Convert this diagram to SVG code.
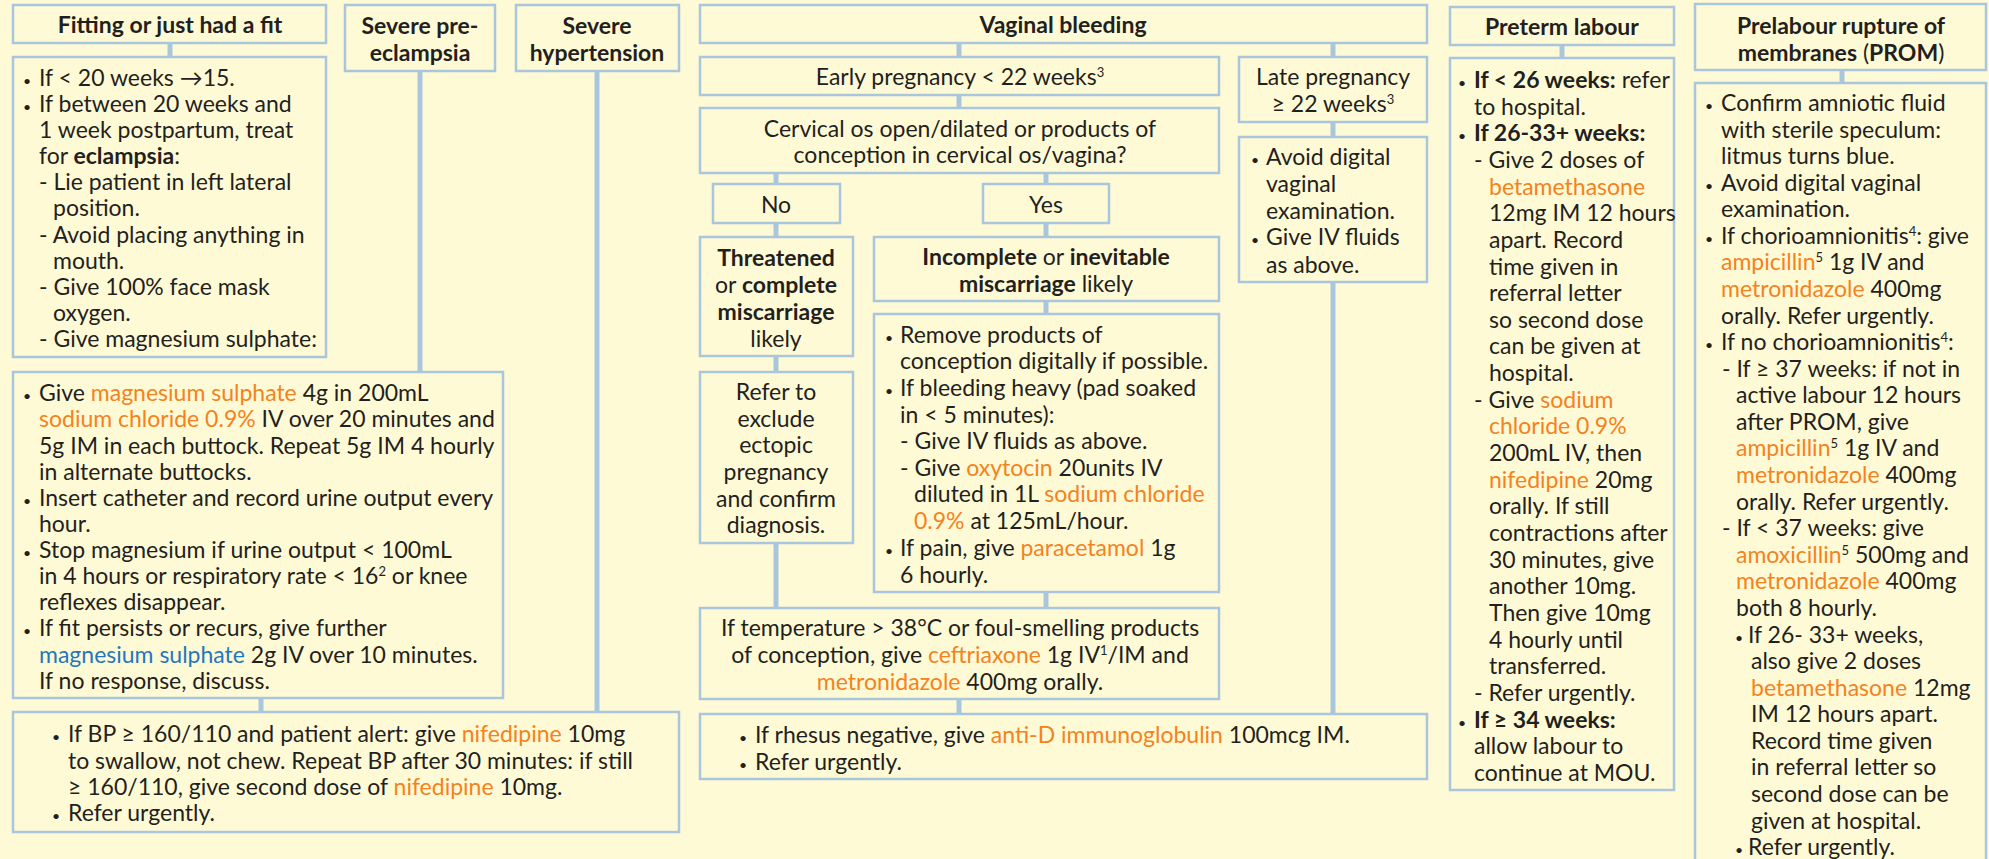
<svg xmlns="http://www.w3.org/2000/svg" width="1989" height="859" viewBox="0 0 1989 859">
<style>
text{font-family:Lato,"Open Sans","Liberation Sans",sans-serif;font-size:23px;fill:#231F20}
.b{font-weight:bold}
.c{text-anchor:middle}
.o{fill:#F58220}
.bl{fill:#1F78BE}
.sup{font-size:13px}
.bu{font-size:14px}
.box{fill:none;stroke:#A9C6DC;stroke-width:2.5}
.conn line{stroke:#A9C6DC;stroke-width:5}
</style>
<rect width="1989" height="859" fill="#FFFAD6"/>
<g class="conn" id="connectors">
<line x1="170" y1="43" x2="170" y2="57"/>
<line x1="420" y1="71" x2="420" y2="372"/>
<line x1="597" y1="71" x2="597" y2="712"/>
<line x1="261" y1="698" x2="261" y2="712"/>
<line x1="959" y1="43" x2="959" y2="57"/>
<line x1="959" y1="95" x2="959" y2="108"/>
<line x1="959" y1="699" x2="959" y2="714"/>
<line x1="1333" y1="43" x2="1333" y2="57"/>
<line x1="1333" y1="122" x2="1333" y2="137"/>
<line x1="1333" y1="282" x2="1333" y2="714"/>
<line x1="776" y1="173" x2="776" y2="184"/>
<line x1="776" y1="223" x2="776" y2="237"/>
<line x1="776" y1="356" x2="776" y2="372"/>
<line x1="776" y1="543" x2="776" y2="608"/>
<line x1="1046" y1="173" x2="1046" y2="184"/>
<line x1="1046" y1="223" x2="1046" y2="237"/>
<line x1="1046" y1="301" x2="1046" y2="314"/>
<line x1="1046" y1="592" x2="1046" y2="608"/>
<line x1="1562" y1="45" x2="1562" y2="58"/>
<line x1="1842" y1="70" x2="1842" y2="83"/>
</g>

<g id="fit-header">
<rect class="box" x="13" y="5" width="313" height="38"/>
<text class="b c" x="170" y="33">Fitting or just had a fit</text>
</g>

<g id="fit-content">
<rect class="box" x="13" y="57" width="313" height="300"/>
<text class="bu" x="23" y="86">•</text><text x="39" y="86">If &lt; 20 weeks →15.</text>
<text class="bu" x="23" y="112">•</text><text x="39" y="112">If between 20 weeks and</text>
<text x="39" y="138">1 week postpartum, treat</text>
<text x="39" y="164">for <tspan class="b">eclampsia</tspan>:</text>
<text x="39" y="190">- Lie patient in left lateral</text>
<text x="53" y="216">position.</text>
<text x="39" y="243">- Avoid placing anything in</text>
<text x="53" y="269">mouth.</text>
<text x="39" y="295">- Give 100% face mask</text>
<text x="53" y="321">oxygen.</text>
<text x="39" y="347">- Give magnesium sulphate:</text>
</g>

<g id="preeclampsia-header">
<rect class="box" x="345" y="5" width="150" height="66"/>
<text class="b c" x="420" y="34">Severe pre-</text>
<text class="b c" x="420" y="61">eclampsia</text>
</g>

<g id="hypertension-header">
<rect class="box" x="516" y="5" width="163" height="66"/>
<text class="b c" x="597" y="34">Severe</text>
<text class="b c" x="597" y="61">hypertension</text>
</g>

<g id="magnesium">
<rect class="box" x="13" y="372" width="490" height="326"/>
<text class="bu" x="23" y="401">•</text><text x="39" y="401">Give <tspan class="o">magnesium sulphate</tspan> 4g in 200mL</text>
<text x="39" y="427"><tspan class="o">sodium chloride 0.9%</tspan> IV over 20 minutes and</text>
<text x="39" y="454">5g IM in each buttock. Repeat 5g IM 4 hourly</text>
<text x="39" y="480">in alternate buttocks.</text>
<text class="bu" x="23" y="506">•</text><text x="39" y="506">Insert catheter and record urine output every</text>
<text x="39" y="532">hour.</text>
<text class="bu" x="23" y="558">•</text><text x="39" y="558">Stop magnesium if urine output &lt; 100mL</text>
<text x="39" y="584">in 4 hours or respiratory rate &lt; 16<tspan class="sup" baseline-shift="super">2</tspan> or knee</text>
<text x="39" y="610">reflexes disappear.</text>
<text class="bu" x="23" y="636">•</text><text x="39" y="636">If fit persists or recurs, give further</text>
<text x="39" y="663"><tspan class="bl">magnesium sulphate</tspan> 2g IV over 10 minutes.</text>
<text x="39" y="689">If no response, discuss.</text>
</g>

<g id="bp">
<rect class="box" x="13" y="712" width="666" height="120"/>
<text class="bu" x="52" y="742">•</text><text x="68" y="742">If BP ≥ 160/110 and patient alert: give <tspan class="o">nifedipine</tspan> 10mg</text>
<text x="68" y="769">to swallow, not chew. Repeat BP after 30 minutes: if still</text>
<text x="68" y="795">≥ 160/110, give second dose of <tspan class="o">nifedipine</tspan> 10mg.</text>
<text class="bu" x="52" y="821">•</text><text x="68" y="821">Refer urgently.</text>
</g>

<g id="vb-header">
<rect class="box" x="700" y="5" width="727" height="38"/>
<text class="b c" x="1063" y="33">Vaginal bleeding</text>
</g>

<g id="early">
<rect class="box" x="700" y="57" width="519" height="38"/>
<text class="c" x="960" y="85">Early pregnancy &lt; 22 weeks<tspan class="sup" baseline-shift="super">3</tspan></text>
</g>

<g id="cervical">
<rect class="box" x="700" y="108" width="519" height="65"/>
<text class="c" x="960" y="137">Cervical os open/dilated or products of</text>
<text class="c" x="960" y="163">conception in cervical os/vagina?</text>
</g>

<g id="no">
<rect class="box" x="713" y="184" width="127" height="39"/>
<text class="c" x="776" y="213">No</text>
</g>

<g id="yes">
<rect class="box" x="983" y="184" width="126" height="39"/>
<text class="c" x="1046" y="213">Yes</text>
</g>

<g id="threatened">
<rect class="box" x="700" y="237" width="153" height="119"/>
<text class="c b" x="776" y="266">Threatened</text>
<text class="c" x="776" y="293">or <tspan class="b">complete</tspan></text>
<text class="c b" x="776" y="320">miscarriage</text>
<text class="c" x="776" y="347">likely</text>
</g>

<g id="incomplete">
<rect class="box" x="874" y="237" width="345" height="64"/>
<text class="c" x="1046" y="265"><tspan class="b">Incomplete</tspan> or <tspan class="b">inevitable</tspan></text>
<text class="c" x="1046" y="292"><tspan class="b">miscarriage</tspan> likely</text>
</g>

<g id="remove">
<rect class="box" x="874" y="314" width="345" height="278"/>
<text class="bu" x="885" y="343">•</text><text x="900" y="343">Remove products of</text>
<text x="900" y="369">conception digitally if possible.</text>
<text class="bu" x="885" y="396">•</text><text x="900" y="396">If bleeding heavy (pad soaked</text>
<text x="900" y="423">in &lt; 5 minutes):</text>
<text x="900" y="449">- Give IV fluids as above.</text>
<text x="900" y="476">- Give <tspan class="o">oxytocin</tspan> 20units IV</text>
<text x="914" y="502">diluted in 1L <tspan class="o">sodium chloride</tspan></text>
<text x="914" y="529"><tspan class="o">0.9%</tspan> at 125mL/hour.</text>
<text class="bu" x="885" y="556">•</text><text x="900" y="556">If pain, give <tspan class="o">paracetamol</tspan> 1g</text>
<text x="900" y="583">6 hourly.</text>
</g>

<g id="refer">
<rect class="box" x="700" y="372" width="153" height="171"/>
<text class="c" x="776" y="400">Refer to</text>
<text class="c" x="776" y="427">exclude</text>
<text class="c" x="776" y="453">ectopic</text>
<text class="c" x="776" y="480">pregnancy</text>
<text class="c" x="776" y="507">and confirm</text>
<text class="c" x="776" y="533">diagnosis.</text>
</g>

<g id="temperature">
<rect class="box" x="700" y="608" width="519" height="91"/>
<text class="c" x="960" y="636">If temperature &gt; 38°C or foul-smelling products</text>
<text class="c" x="960" y="663">of conception, give <tspan class="o">ceftriaxone</tspan> 1g IV<tspan class="sup" baseline-shift="super">1</tspan>/IM and</text>
<text class="c" x="960" y="690"><tspan class="o">metronidazole</tspan> 400mg orally.</text>
</g>

<g id="rhesus">
<rect class="box" x="700" y="714" width="727" height="65"/>
<text class="bu" x="739" y="743">•</text><text x="755" y="743">If rhesus negative, give <tspan class="o">anti-D immunoglobulin</tspan> 100mcg IM.</text>
<text class="bu" x="739" y="770">•</text><text x="755" y="770">Refer urgently.</text>
</g>

<g id="late">
<rect class="box" x="1239" y="57" width="188" height="65"/>
<text class="c" x="1333" y="85">Late pregnancy</text>
<text class="c" x="1333" y="112">≥ 22 weeks<tspan class="sup" baseline-shift="super">3</tspan></text>
</g>

<g id="avoid">
<rect class="box" x="1239" y="137" width="188" height="145"/>
<text class="bu" x="1251" y="165">•</text><text x="1266" y="165">Avoid digital</text>
<text x="1266" y="192">vaginal</text>
<text x="1266" y="219">examination.</text>
<text class="bu" x="1251" y="245">•</text><text x="1266" y="245">Give IV fluids</text>
<text x="1266" y="273">as above.</text>
</g>

<g id="preterm-header">
<rect class="box" x="1450" y="7" width="224" height="38"/>
<text class="b c" x="1562" y="35">Preterm labour</text>
</g>

<g id="preterm">
<rect class="box" x="1450" y="58" width="224" height="732"/>
<text class="bu" x="1458" y="88">•</text><text x="1474" y="88"><tspan class="b">If &lt; 26 weeks:</tspan> refer</text>
<text x="1474" y="115">to hospital.</text>
<text class="bu" x="1458" y="141">•</text><text x="1474" y="141" class="b">If 26-33+ weeks:</text>
<text x="1474" y="168">- Give 2 doses of</text>
<text x="1489" y="195" class="o">betamethasone</text>
<text x="1489" y="221">12mg IM 12 hours</text>
<text x="1489" y="248">apart. Record</text>
<text x="1489" y="275">time given in</text>
<text x="1489" y="301">referral letter</text>
<text x="1489" y="328">so second dose</text>
<text x="1489" y="354">can be given at</text>
<text x="1489" y="381">hospital.</text>
<text x="1474" y="408">- Give <tspan class="o">sodium</tspan></text>
<text x="1489" y="434" class="o">chloride 0.9%</text>
<text x="1489" y="461">200mL IV, then</text>
<text x="1489" y="488"><tspan class="o">nifedipine</tspan> 20mg</text>
<text x="1489" y="514">orally. If still</text>
<text x="1489" y="541">contractions after</text>
<text x="1489" y="568">30 minutes, give</text>
<text x="1489" y="594">another 10mg.</text>
<text x="1489" y="621">Then give 10mg</text>
<text x="1489" y="648">4 hourly until</text>
<text x="1489" y="674">transferred.</text>
<text x="1474" y="701">- Refer urgently.</text>
<text class="bu" x="1458" y="728">•</text><text x="1474" y="728" class="b">If ≥ 34 weeks:</text>
<text x="1474" y="754">allow labour to</text>
<text x="1474" y="781">continue at MOU.</text>
</g>

<g id="prom-header">
<rect class="box" x="1695" y="4" width="291" height="66"/>
<text class="b c" x="1841" y="34">Prelabour rupture of</text>
<text class="c" x="1841" y="61"><tspan class="b">membranes</tspan> (<tspan class="b">PROM</tspan>)</text>
</g>

<g id="prom">
<rect class="box" x="1695" y="83" width="291" height="790"/>
<text class="bu" x="1705" y="111">•</text><text x="1721" y="111">Confirm amniotic fluid</text>
<text x="1721" y="138">with sterile speculum:</text>
<text x="1721" y="164">litmus turns blue.</text>
<text class="bu" x="1705" y="191">•</text><text x="1721" y="191">Avoid digital vaginal</text>
<text x="1721" y="217">examination.</text>
<text class="bu" x="1705" y="244">•</text><text x="1721" y="244">If chorioamnionitis<tspan class="sup" baseline-shift="super">4</tspan>: give</text>
<text x="1721" y="270"><tspan class="o">ampicillin</tspan><tspan class="sup" baseline-shift="super">5</tspan> 1g IV and</text>
<text x="1721" y="297"><tspan class="o">metronidazole</tspan> 400mg</text>
<text x="1721" y="324">orally. Refer urgently.</text>
<text class="bu" x="1705" y="350">•</text><text x="1721" y="350">If no chorioamnionitis<tspan class="sup" baseline-shift="super">4</tspan>:</text>
<text x="1722" y="377">- If ≥ 37 weeks: if not in</text>
<text x="1736" y="403">active labour 12 hours</text>
<text x="1736" y="430">after PROM, give</text>
<text x="1736" y="456"><tspan class="o">ampicillin</tspan><tspan class="sup" baseline-shift="super">5</tspan> 1g IV and</text>
<text x="1736" y="483"><tspan class="o">metronidazole</tspan> 400mg</text>
<text x="1736" y="510">orally. Refer urgently.</text>
<text x="1722" y="536">- If &lt; 37 weeks: give</text>
<text x="1736" y="563"><tspan class="o">amoxicillin</tspan><tspan class="sup" baseline-shift="super">5</tspan> 500mg and</text>
<text x="1736" y="589"><tspan class="o">metronidazole</tspan> 400mg</text>
<text x="1736" y="616">both 8 hourly.</text>
<text class="bu" x="1735" y="643">•</text><text x="1748" y="643">If 26- 33+ weeks,</text>
<text x="1751" y="669">also give 2 doses</text>
<text x="1751" y="696"><tspan class="o">betamethasone</tspan> 12mg</text>
<text x="1751" y="722">IM 12 hours apart.</text>
<text x="1751" y="749">Record time given</text>
<text x="1751" y="775">in referral letter so</text>
<text x="1751" y="802">second dose can be</text>
<text x="1751" y="829">given at hospital.</text>
<text class="bu" x="1735" y="855">•</text><text x="1748" y="855">Refer urgently.</text>
</g>
</svg>
